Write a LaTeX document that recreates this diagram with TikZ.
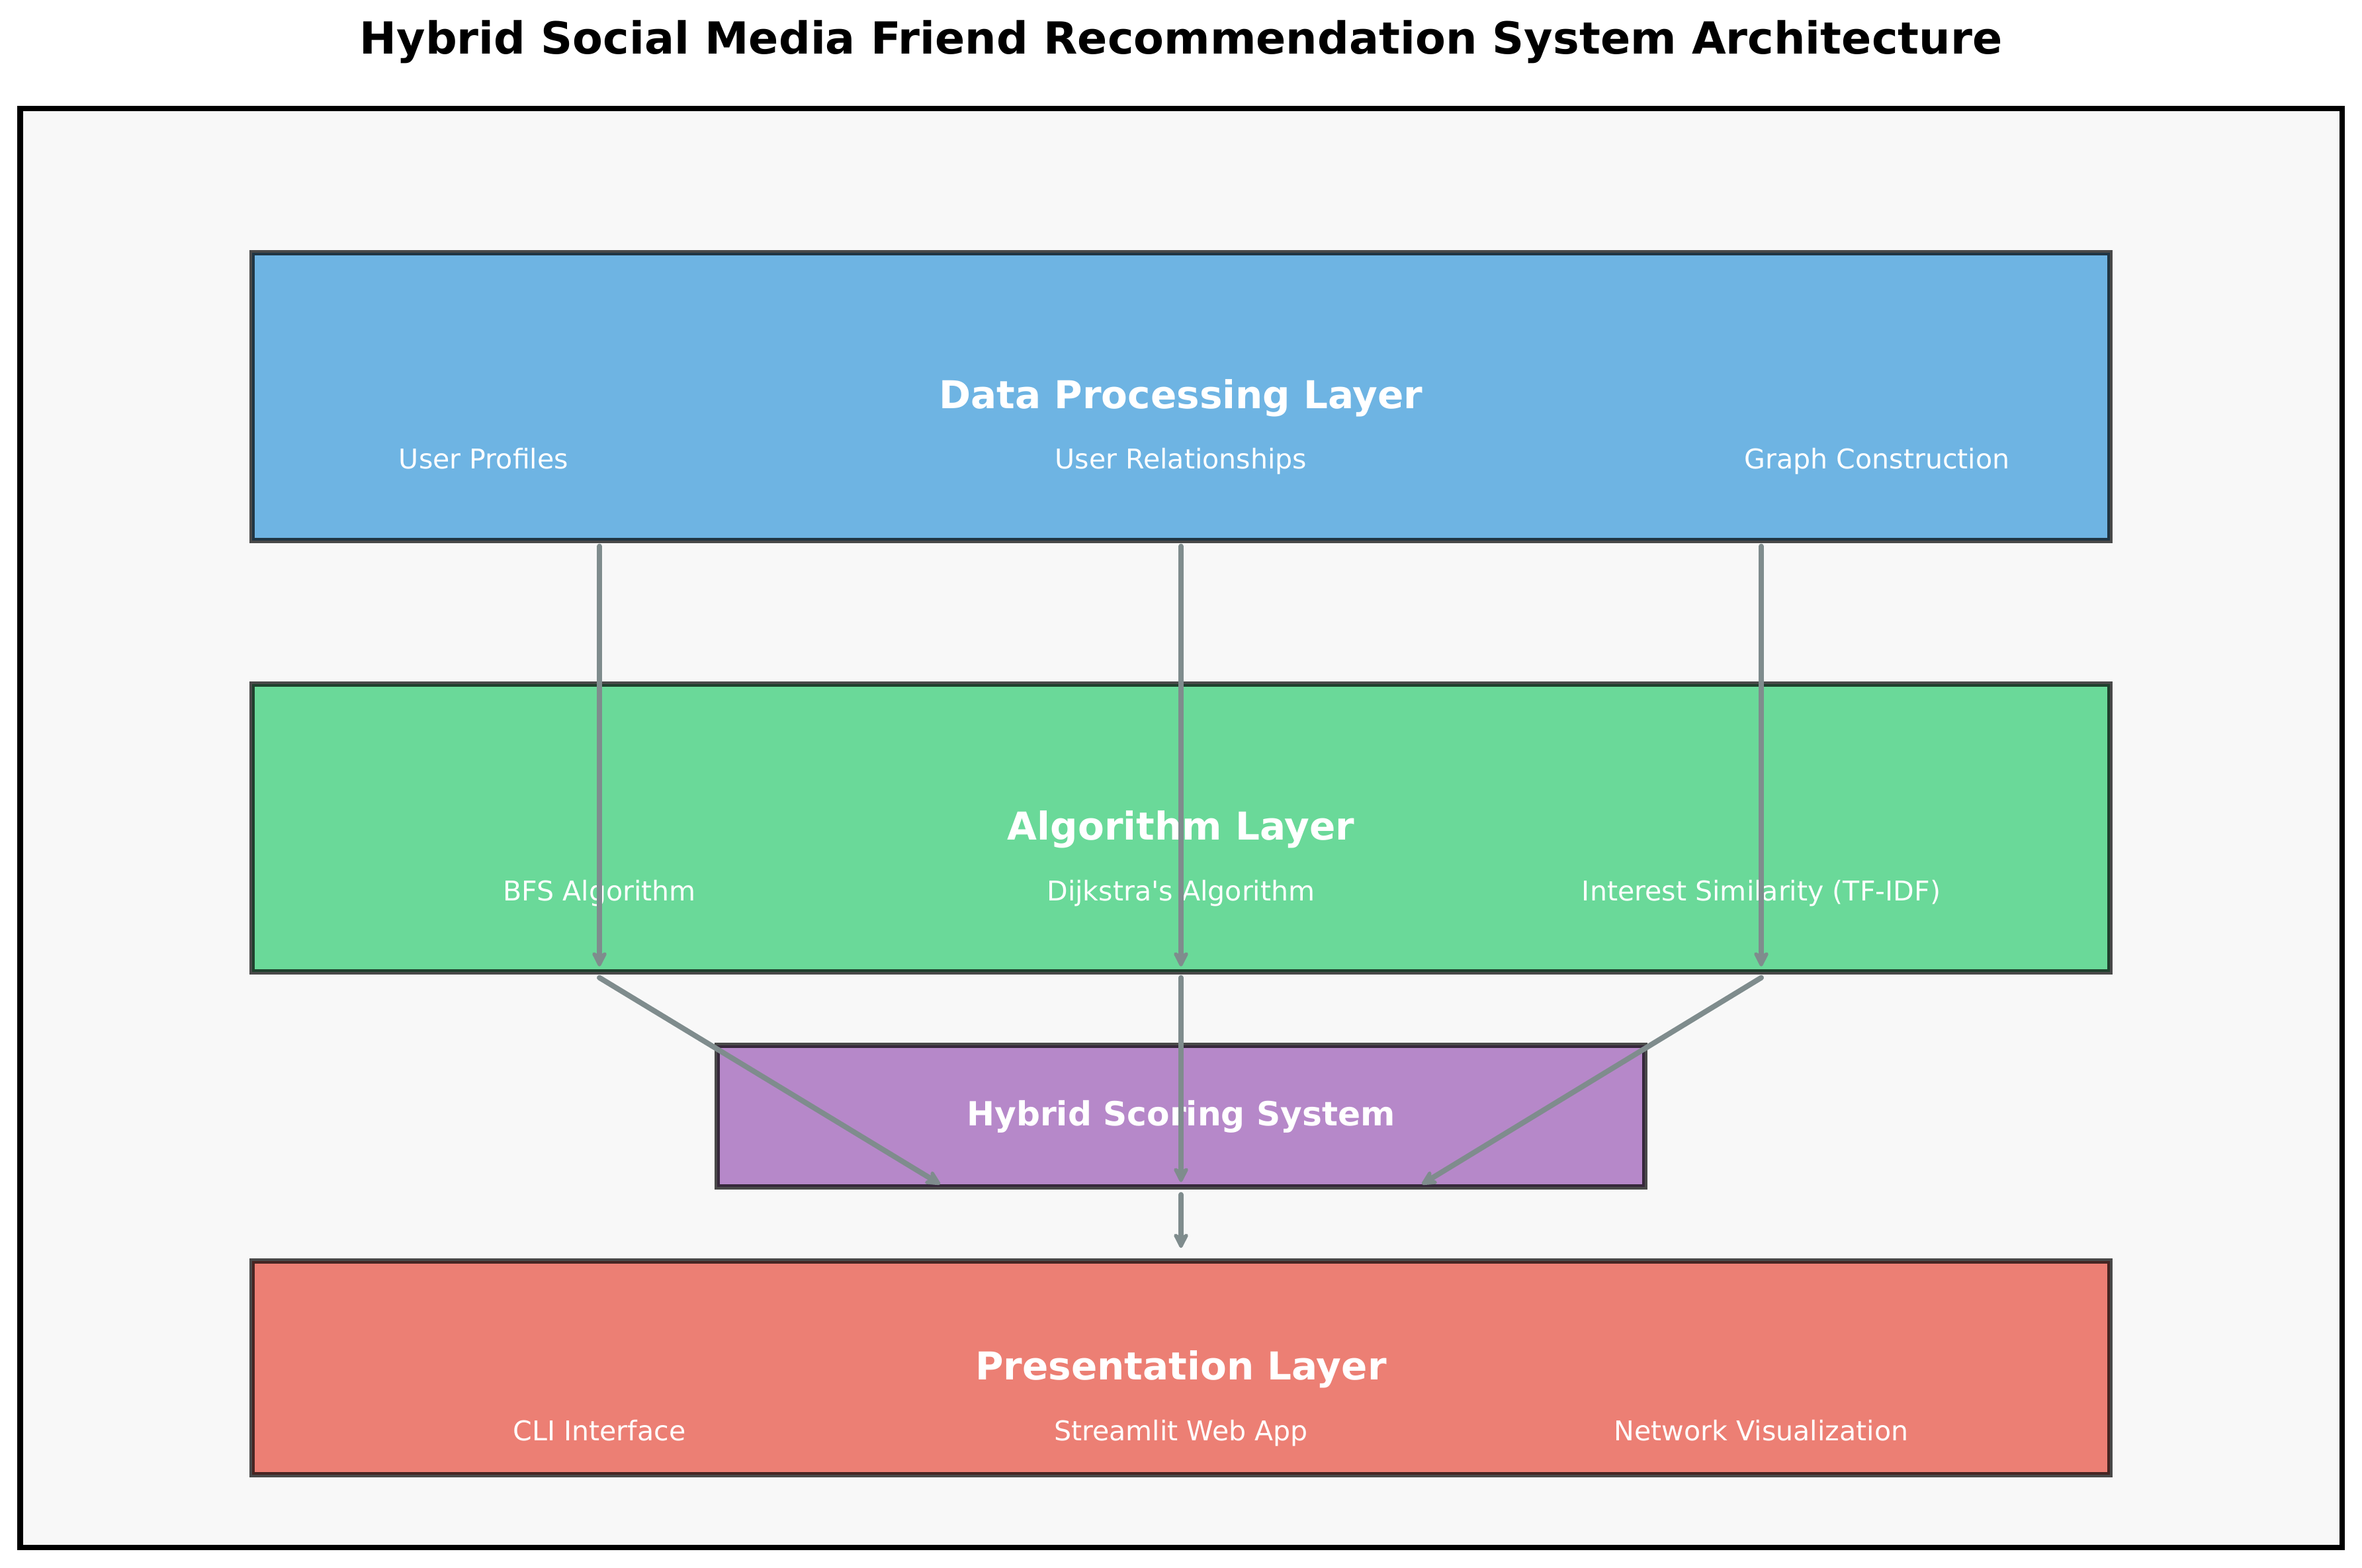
\documentclass[tikz,border=0pt]{standalone}
\usepackage{fontspec}
\setmainfont{DejaVu Sans}
\usetikzlibrary{arrows.meta, positioning, calc}
\definecolor{panelgray}{HTML}{F8F8F8}
\definecolor{dpblue}{HTML}{3498DB}
\definecolor{alggreen}{HTML}{2ECC71}
\definecolor{hybpurple}{HTML}{9B59B6}
\definecolor{presred}{HTML}{E74C3C}
\definecolor{flowgray}{HTML}{7F8C8D}
\newcommand{\fsz}[1]{\fontsize{#1}{#1}\selectfont}

\begin{document}
\begin{tikzpicture}[
  every node/.style={text=white, anchor=base, inner sep=0pt},
  layer/.style={draw=black, draw opacity=0.7, fill opacity=0.7, text opacity=1,
    line width=0.075cm, anchor=center, minimum width=28.08cm},
  ltitle/.style={font=\bfseries\fsz{16.5}},
  sub/.style={font=\fsz{11.7}},
  flow/.style={draw=flowgray, line width=0.08cm, line cap=round,
    -{Stealth[length=2.8mm, width=2.8mm, inset=0.8mm, round]}}]
\useasboundingbox[fill=white] (0,0) rectangle (35.70,23.70);
% title and panel
\node[text=black, font=\bfseries\fsz{19}] (title) at (17.85,22.88)
  {Hybrid Social Media Friend Recommendation System Architecture};
\draw[fill=panelgray, line width=0.085cm] (0.305,0.31) rectangle (35.40,22.06);
% data processing layer
\node[layer, fill=dpblue, minimum height=4.35cm] (dp) at (17.85,17.705) {};
\node[ltitle] (dpT) at (17.85,17.52) {Data Processing Layer};
\node[sub] (prof) at (7.31,16.61) {User Profiles};
\node[sub] (rel) at (17.85,16.61) {User Relationships};
\node[sub] (graph) at (28.37,16.61) {Graph Construction};
% algorithm layer
\node[layer, fill=alggreen, minimum height=4.35cm] (alg) at (17.85,11.185) {};
\node[ltitle] (algT) at (17.85,11.0) {Algorithm Layer};
\node[sub] (bfs) at (9.06,10.08) {BFS Algorithm};
\node[sub] (dijk) at (17.85,10.08) {Dijkstra\textquotesingle s Algorithm};
\node[sub] (tfidf) at (26.62,10.08) {Interest Similarity (TF-IDF)};
% hybrid scoring
\node[layer, fill=hybpurple, minimum width=14.02cm, minimum height=2.14cm] (hyb) at (17.85,6.83) {};
\node[font=\bfseries\fsz{14.3}] (hybT) at (17.85,6.68) {Hybrid Scoring System};
\coordinate (hin1) at (14.21,5.80);
\coordinate (hin3) at (21.49,5.80);
% presentation layer
\node[layer, fill=presred, minimum height=3.23cm] (pres) at (17.85,3.025) {};
\node[ltitle] (presT) at (17.85,2.84) {Presentation Layer};
\node[sub] (cli) at (9.06,1.92) {CLI Interface};
\node[sub] (web) at (17.85,1.92) {Streamlit Web App};
\node[sub] (viz) at (26.62,1.92) {Network Visualization};
% flows
\foreach \s in {bfs,dijk,tfidf}
  \draw[flow] ([yshift=-0.05cm]\s |- dp.south) -- ([yshift=0.12cm]\s |- alg.south);
\draw[flow] ([yshift=-0.05cm]bfs |- alg.south) -- (hin1);
\draw[flow] ([yshift=-0.05cm]dijk |- alg.south) -- ([yshift=0.11cm]dijk |- hyb.south);
\draw[flow] ([yshift=-0.05cm]tfidf |- alg.south) -- (hin3);
\draw[flow] ([yshift=-0.08cm]hyb.south) -- ([yshift=0.16cm]pres.north);
\end{tikzpicture}
\end{document}
